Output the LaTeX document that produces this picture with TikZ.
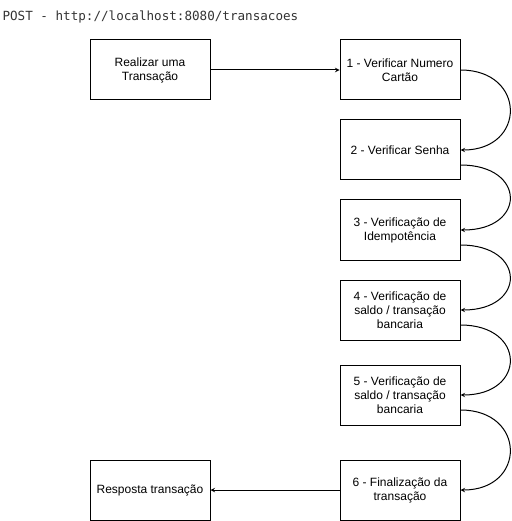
\documentclass[tikz,border=0pt]{standalone}
\usepackage{fontspec}
\setmainfont{Liberation Sans}
\newfontfamily\urlfont{DejaVu Sans Mono}
\usetikzlibrary{arrows}
\definecolor{urlgray}{HTML}{333333}
\begin{document}
\begin{tikzpicture}[x=1pt, y=-1pt, >=stealth, line width=1pt,
    stepbox/.style={rectangle, draw, minimum width=120pt, minimum height=60pt, align=center, font=\fontsize{12}{14}\selectfont, inner sep=0pt},
    loop/.style={->, out=0, in=0, distance=66pt}]
    \useasboundingbox (0,0) rectangle (511,521);

    % Endpoint.
    \node[anchor=west, inner sep=0pt, text=urlgray, font=\urlfont\fontsize{12.6}{14}\selectfont] (url) at (2,17) {POST - http://localhost:8080/transacoes};

    % Start and answer.
    \node[stepbox] (start) at (150,70) {Realizar uma\\Transação};
    \node[stepbox] (resp) at (150,490) {Resposta transação};

    % Steps.
    \node[stepbox] (S-1) at (400,70) {1 - Verificar Numero\\Cartão};
    \node[stepbox] (S-2) at (400,150) {2 - Verificar Senha};
    \node[stepbox] (S-3) at (400,230) {3 - Verificação de\\Idempotência};
    \node[stepbox] (S-4) at (400,310) {4 - Verificação de\\saldo / transação\\bancaria};
    \node[stepbox] (S-5) at (400,395) {5 - Verificação de\\saldo / transação\\bancaria};
    \node[stepbox] (S-6) at (400,490) {6 - Finalização da\\transação};

    % Connections.
    \draw[->] (start.east) -- (S-1.west);
    \draw[loop] (S-1.east) to (S-2.east);
    \foreach \src/\dest in {2/3,3/4,4/5,5/6}
        \draw[loop] ([yshift=-15pt]S-\src.east) to (S-\dest.east);
    \draw[->] (S-6.west) -- (resp.east);

\end{tikzpicture}
\end{document}
